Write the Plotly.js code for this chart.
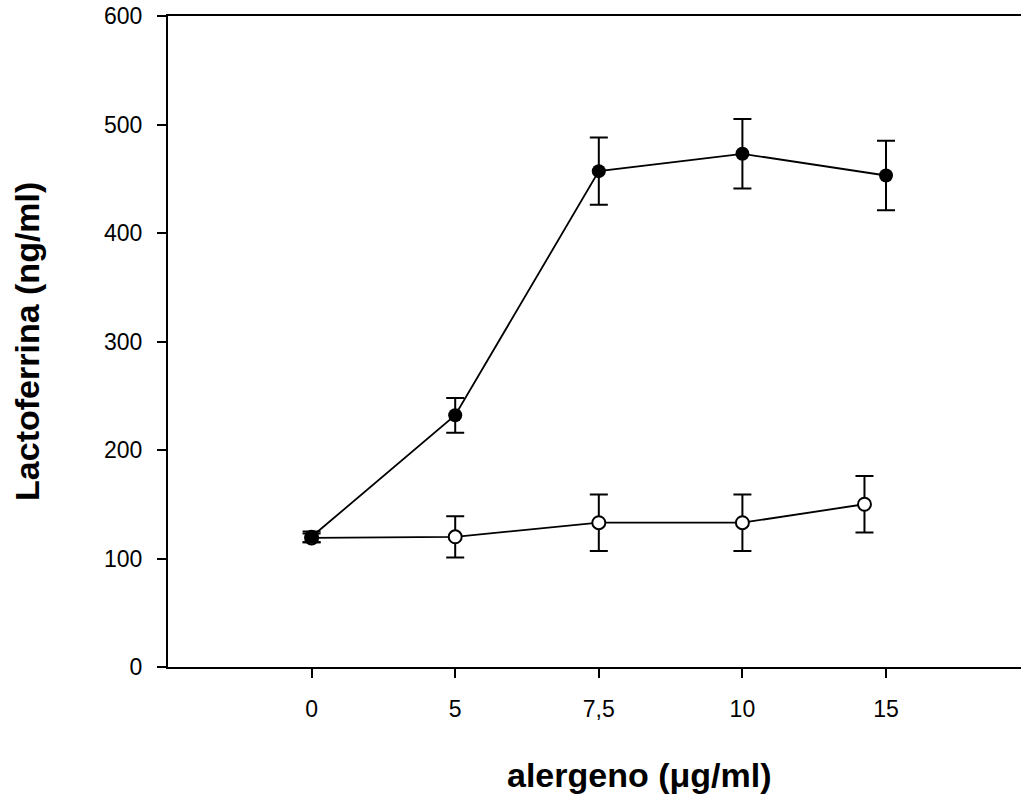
<!DOCTYPE html>
<html>
<head>
<meta charset="utf-8">
<script src="https://cdn.plot.ly/plotly-3.0.1.min.js"></script>
<style>html,body{margin:0;padding:0;background:#fff;}#chart{width:1021px;height:798px;}</style>
</head>
<body>
<div id="chart"></div>
<script>
// Category labels and their positions on the axis
const tickLabels = ['0', '5', '7,5', '10', '15'];
const tickPositions = [0, 1, 2, 3, 4];

// Filled circles series
const filledX = [0, 1, 2, 3, 4];
const filledY = [120, 232, 457, 473, 453];
const filledErr = [5, 16, 31, 32, 32];

// Open circles series
const openX = [0, 1, 2, 3, 3.85];
const openY = [119, 120, 133, 133, 150];
const openErr = [4, 19, 26, 26, 26];

const font = 'Arial, "Liberation Sans", Helvetica, sans-serif';

const traces = [
  {
    x: openX, y: openY, type: 'scatter', mode: 'lines+markers',
    line: {color: '#000', width: 1.8},
    marker: {symbol: 'circle', size: 13, color: '#fff', line: {color: '#000', width: 2}},
    error_y: {type: 'data', array: openErr, visible: true, color: '#000', thickness: 2, width: 9},
    showlegend: false, cliponaxis: false
  },
  {
    x: filledX, y: filledY, type: 'scatter', mode: 'lines+markers',
    line: {color: '#000', width: 1.8},
    marker: {symbol: 'circle', size: 14, color: '#000'},
    error_y: {type: 'data', array: filledErr, visible: true, color: '#000', thickness: 2, width: 9},
    showlegend: false, cliponaxis: false
  }
];

const layout = {
  width: 1021, height: 798,
  margin: {l: 168, r: 0, t: 16, b: 131},
  paper_bgcolor: '#fff', plot_bgcolor: '#fff',
  font: {family: font, color: '#000'},
  xaxis: {
    range: [-1, 4.94], tickvals: tickPositions, ticktext: tickLabels,
    showgrid: false, zeroline: false, showline: true, linecolor: '#000', linewidth: 2,
    mirror: true, ticks: 'outside', ticklen: 9, tickwidth: 2, tickcolor: '#000',
    ticklabelstandoff: 11,
    tickfont: {size: 23, family: font, color: '#000'}, fixedrange: true
  },
  yaxis: {
    range: [0, 600], tickvals: [0, 100, 200, 300, 400, 500, 600],
    showgrid: false, zeroline: false, showline: true, linecolor: '#000', linewidth: 2,
    ticks: 'outside', ticklen: 9, tickwidth: 2, tickcolor: '#000',
    ticklabelstandoff: 10,
    tickfont: {size: 23, family: font, color: '#000'}, fixedrange: true
  },
  annotations: [
    {text: '<b>alergeno (\u03bcg/ml)</b>', xref: 'paper', yref: 'paper',
     x: 0.553, y: -0.166, xanchor: 'center', yanchor: 'middle', showarrow: false,
     font: {size: 34, family: font, color: '#000'}},
    {text: '<b>Lactoferrina (ng/ml)</b>', xref: 'paper', yref: 'paper',
     x: -0.166, y: 0.5, xanchor: 'center', yanchor: 'middle', showarrow: false, textangle: -90,
     font: {size: 34, family: font, color: '#000'}}
  ]
};

Plotly.newPlot('chart', traces, layout, {displayModeBar: false, staticPlot: true});
</script>
</body>
</html>
